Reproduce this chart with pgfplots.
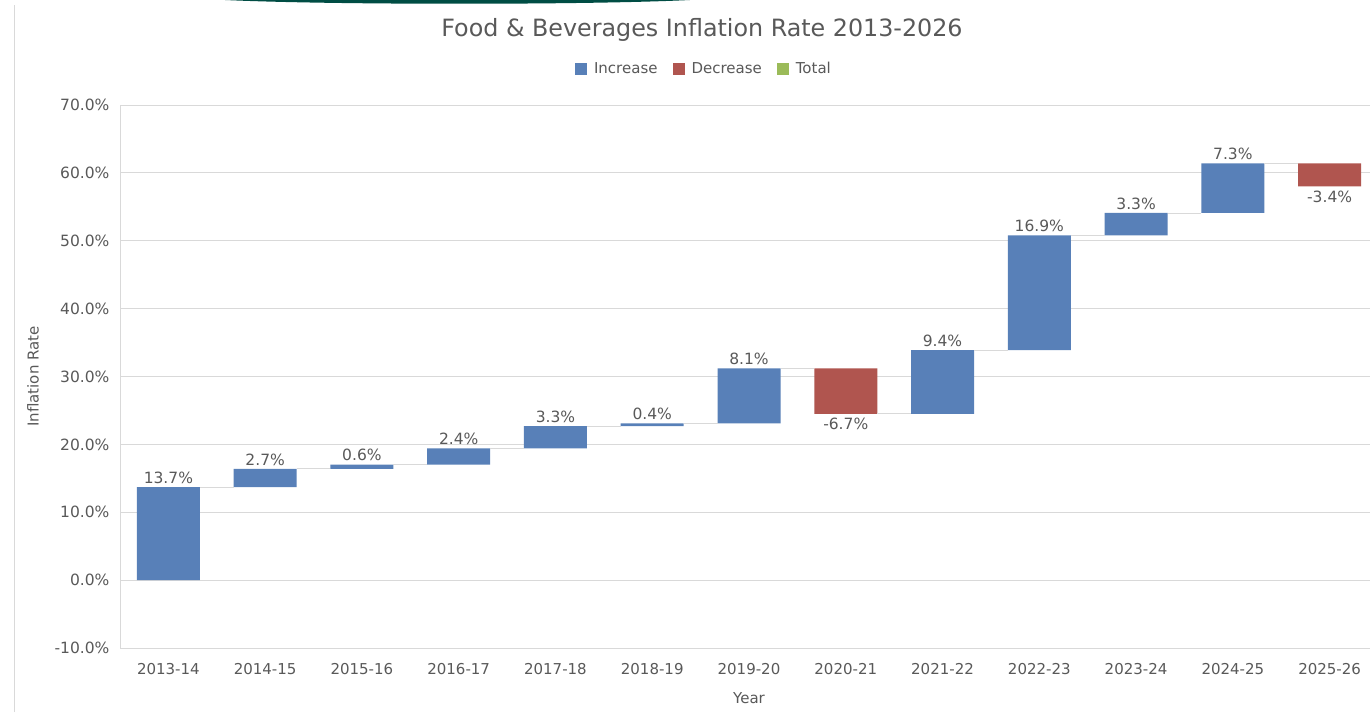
\documentclass[border=0pt]{standalone}
\usepackage{fontspec}
\setmainfont{DejaVu Sans}
\usepackage{pgfplots}
\pgfplotsset{compat=1.18}
\definecolor{incblue}{HTML}{5880B8}
\definecolor{decred}{HTML}{B0554F}
\definecolor{totgreen}{HTML}{9BBB59}
\definecolor{gridgray}{HTML}{D9D9D9}
\definecolor{txtgray}{HTML}{595959}
\definecolor{decogreen}{HTML}{004D44}
\pgfplotsset{/pgf/number format/assume math mode=true,
  common/.style={at={(120pt,64pt)}, anchor=south west, scale only axis,
    width=1258pt, height=543pt, xmin=-0.5, xmax=12.5, ymin=-10, ymax=70}}
\begin{document}
\begin{tikzpicture}
\useasboundingbox (0,0) rectangle (1370pt,712pt);
\clip (0,0) rectangle (1370pt,712pt);
\fill[white] (0,0) rectangle (1370pt,712pt);
\draw[gridgray, line width=1pt] (14pt,0) -- (14pt,707pt);
\fill[decogreen] (225pt,712pt) .. controls (330pt,707pt) and (590pt,707pt) .. (690pt,712pt) -- cycle;
\node[text=txtgray, font=\fontsize{23.8}{28}\selectfont] at (702pt,682pt) {Food \& Beverages Inflation Rate 2013-2026};

\begin{axis}[common,
  ybar stacked, bar width=63pt,
  xtick={0,...,12},
  xticklabels={2013-14,2014-15,2015-16,2016-17,2017-18,2018-19,2019-20,2020-21,2021-22,2022-23,2023-24,2024-25,2025-26},
  ytick={-10,0,...,70},
  yticklabel={\pgfmathprintnumber[fixed,fixed zerofill,precision=1]{\tick}\%},
  ymajorgrids, grid style={gridgray, line width=0.8pt},
  axis line style={gridgray, line width=0.8pt},
  major tick length=0pt,
  tick label style={font=\fontsize{15}{18}\selectfont, text=txtgray},
  xticklabel style={yshift=-12pt},
  yticklabel style={xshift=-7pt, font=\fontsize{15.5}{18}\selectfont},
  xlabel={Year}, ylabel={Inflation Rate},
  label style={font=\fontsize{15}{18}\selectfont, text=txtgray},
  xlabel style={at={(axis description cs:0.5,-0.092)}, anchor=center},
  ylabel style={at={(axis description cs:-0.0692,0.5)}, anchor=center},
  every axis plot post/.append style={legend image code/.code={\fill[##1] (0pt,-6pt) rectangle (12pt,6pt);}},
  legend style={at={(0.4642,1.0663)}, anchor=center, draw=none, fill=none,
    font=\fontsize{15}{18}\selectfont, text=txtgray,
    /tikz/every odd column/.append style={column sep=5pt},
    /tikz/every even column/.append style={column sep=13pt}},
  legend columns=-1,
]
\addplot[draw=none, fill=none, forget plot] coordinates {
(0,0) (1,13.7) (2,16.4) (3,17.0) (4,19.4) (5,22.7) (6,23.1) (7,24.5) (8,24.5) (9,33.9) (10,50.8) (11,54.1) (12,58.0)};
\addplot[fill=incblue, draw=none] coordinates {
(0,13.7) (1,2.7) (2,0.6) (3,2.4) (4,3.3) (5,0.4) (6,8.1) (7,0) (8,9.4) (9,16.9) (10,3.3) (11,7.3) (12,0)};
\addplot[fill=decred, draw=none] coordinates {
(0,0) (1,0) (2,0) (3,0) (4,0) (5,0) (6,0) (7,6.7) (8,0) (9,0) (10,0) (11,0) (12,3.4)};
\addlegendimage{fill=totgreen, draw=none}
\legend{Increase, Decrease, Total}
\end{axis}

\begin{axis}[common, hide axis, clip=false, unbounded coords=jump]
\addplot[gridgray, line width=0.8pt] coordinates {
(0.3255,13.7) (0.6745,13.7) (1,nan)
(1.3255,16.4) (1.6745,16.4) (2,nan)
(2.3255,17.0) (2.6745,17.0) (3,nan)
(3.3255,19.4) (3.6745,19.4) (4,nan)
(4.3255,22.7) (4.6745,22.7) (5,nan)
(5.3255,23.1) (5.6745,23.1) (6,nan)
(6.3255,31.2) (6.6745,31.2) (7,nan)
(7.3255,24.5) (7.6745,24.5) (8,nan)
(8.3255,33.9) (8.6745,33.9) (9,nan)
(9.3255,50.8) (9.6745,50.8) (10,nan)
(10.3255,54.1) (10.6745,54.1) (11,nan)
(11.3255,61.4) (11.6745,61.4)};
\addplot[draw=none, mark=none, nodes near coords, point meta=explicit symbolic,
  every node near coord/.append style={anchor=south, yshift=0pt, font=\fontsize{15.5}{18}\selectfont, text=txtgray}]
coordinates {
(0,13.7) [13.7\%] (1,16.4) [2.7\%] (2,17.0) [0.6\%] (3,19.4) [2.4\%] (4,22.7) [3.3\%]
(5,23.1) [0.4\%] (6,31.2) [8.1\%] (8,33.9) [9.4\%] (9,50.8) [16.9\%] (10,54.1) [3.3\%] (11,61.4) [7.3\%]};
\addplot[draw=none, mark=none, nodes near coords, point meta=explicit symbolic,
  every node near coord/.append style={anchor=north, yshift=-1pt, font=\fontsize{15.5}{18}\selectfont, text=txtgray}]
coordinates {(7,24.5) [-6.7\%] (12,58.0) [-3.4\%]};
\end{axis}
\end{tikzpicture}
\end{document}
